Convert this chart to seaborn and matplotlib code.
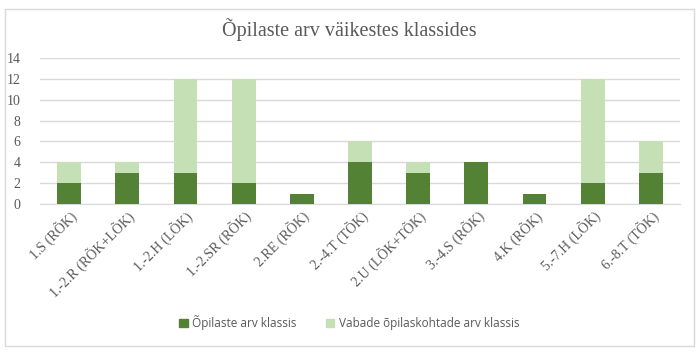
import pandas as pd
import seaborn as sns
import matplotlib.pyplot as plt
from matplotlib.patches import Patch, Rectangle

classes = ["1.S (RÕK)", "1.-2.R (RÕK+LÕK)", "1.-2.H (LÕK)", "1.-2.SR (RÕK)",
           "2.RE (RÕK)", "2.-4.T (TÕK)", "2.U (LÕK+TÕK)", "3.-4.S (RÕK)",
           "4.K (RÕK)", "5.-7.H (LÕK)", "6.-8.T (TÕK)"]
students = [2, 3, 3, 2, 1, 4, 3, 4, 1, 2, 3]
free_places = [2, 1, 9, 10, 0, 2, 1, 0, 0, 10, 3]

dark_green = "#548235"
light_green = "#C5E0B4"
text_gray = "#595959"


def main():
    df = pd.DataFrame({"klass": classes, "students": students, "free": free_places})
    df["total"] = df["students"] + df["free"]

    sns.set_style("white")
    plt.rcParams["font.family"] = ["Liberation Serif", "DejaVu Serif"]

    fig = plt.figure(figsize=(6.99, 3.56), dpi=100)
    ax = fig.add_axes([40 / 699, 1 - 204 / 356, 640 / 699, 146 / 356])

    # stacked bars: total in light green, occupied on top in dark green
    sns.barplot(data=df, x="klass", y="total", color=light_green, width=0.41,
                saturation=1, linewidth=0, ax=ax, zorder=3)
    sns.barplot(data=df, x="klass", y="students", color=dark_green, width=0.41,
                saturation=1, linewidth=0, ax=ax, zorder=3)

    ax.set_ylim(0, 14)
    ax.set_yticks(range(0, 15, 2))
    ax.set_xlim(-0.5, len(classes) - 0.5)
    ax.grid(axis="y", color="#D9D9D9", linewidth=1, zorder=0)
    for side in ["top", "right", "left"]:
        ax.spines[side].set_visible(False)
    ax.spines["bottom"].set_color("#D9D9D9")
    ax.set_xlabel("")
    ax.set_ylabel("")
    ax.tick_params(axis="both", length=0, colors=text_gray, labelsize=10)
    ax.tick_params(axis="y", pad=14)
    plt.setp(ax.get_xticklabels(), rotation=45, ha="right", rotation_mode="anchor")

    fig.text(0.5, 1 - 30 / 356, "Õpilaste arv väikestes klassides", ha="center",
             va="center", fontsize=14.5, color=text_gray)

    handles = [Patch(color=dark_green, label="Õpilaste arv klassis"),
               Patch(color=light_green, label="Vabade õpilaskohtade arv klassis")]
    fig.legend(handles=handles, loc="center", bbox_to_anchor=(0.5, 1 - 323 / 356),
               ncol=2, frameon=False, handlelength=0.7, handleheight=0.7,
               columnspacing=2.5, handletextpad=0.4,
               prop={"family": ["Open Sans", "DejaVu Sans"], "size": 8.5},
               labelcolor=text_gray)

    fig.patches.append(Rectangle((5 / 699, 10 / 356), 689 / 699, 337 / 356,
                                 transform=fig.transFigure, fill=False,
                                 edgecolor="#D9D9D9", linewidth=1))

    fig.savefig("out.png", dpi=100)


if __name__ == "__main__":
    main()
